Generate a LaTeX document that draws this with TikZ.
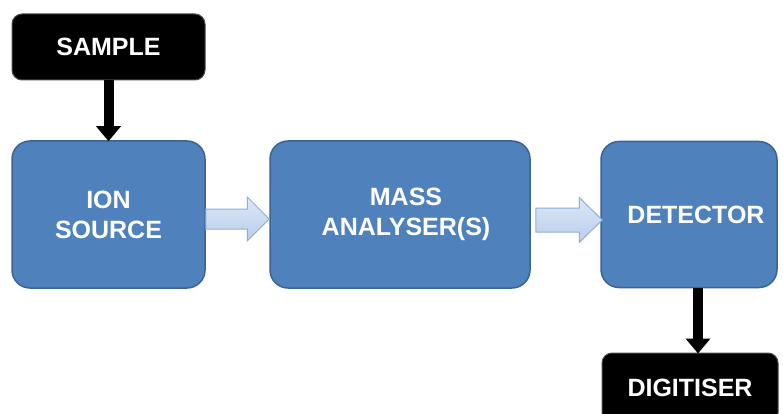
\documentclass[tikz,border=0pt]{standalone}
\usepackage{fontspec}
\setmainfont{Liberation Sans}
\usetikzlibrary{calc,arrows.meta}
\definecolor{boxblue}{HTML}{4F81BD}
\definecolor{boxedge}{HTML}{3B6494}
\definecolor{arrtop}{HTML}{DDE8F6}
\definecolor{arrbot}{HTML}{B8CDEB}
\definecolor{arredge}{HTML}{8EAFDA}
\tikzset{
  bluebox/.style={draw=boxedge, line width=1.5pt, fill=boxblue, rounded corners=18pt,
    text=white, font=\bfseries\fontsize{25}{30}\selectfont, align=center, inner sep=0pt},
  blackbox/.style={draw=black!70, line width=1pt, fill=black, rounded corners=10pt,
    text=white, font=\bfseries\fontsize{25}{30}\selectfont, align=center, inner sep=0pt},
  downarrow/.style={draw=black, line width=10pt, -{Triangle[width=24pt,length=15pt]}, shorten >=-1pt},
  barrow/.style={draw=arredge, line width=1pt, top color=arrtop, bottom color=arrbot, line join=miter}
}
\begin{document}
\begin{tikzpicture}[x=1pt,y=-1pt]
\clip (0,0) rectangle (783,414);
\fill[white] (0,0) rectangle (783,414);
\node[blackbox, minimum width=193pt, minimum height=66pt] (sample) at (108.5,47) {SAMPLE};
\node[bluebox, minimum width=193pt, minimum height=147pt] (ion) at (108.5,214.5) {ION\\SOURCE};
\node[bluebox, minimum width=260pt, minimum height=147pt] (mass) at (400,214.5) {\hspace*{12pt}MASS\\\hspace*{12pt}ANALYSER(S)};
\node[bluebox, minimum width=176pt, minimum height=146pt] (det) at (689,214.5) {\hspace*{14pt}DETECTOR};
\node[blackbox, minimum width=176pt, minimum height=70pt] (dig) at (690,388) {DIGITISER};
% vertical arrows
\draw[downarrow] (sample.south) -- (ion.north);
\draw[downarrow] ($(det.south)+(9,0)$) -- ($(dig.north)+(8,0)$);
% block arrows
\coordinate (s1) at ($(ion.east)+(0,4.5)$);
\coordinate (t1) at ($(mass.west)+(0,4.5)$);
\draw[barrow] ($(s1)+(0,-10)$) -- ($(t1)+(-22,-10)$) -- ($(t1)+(-22,-22)$) -- (t1)
  -- ($(t1)+(-22,22)$) -- ($(t1)+(-22,10)$) -- ($(s1)+(0,10)$) -- cycle;
\coordinate (s2) at ($(mass.east)+(5,5.5)$);
\coordinate (t2) at ($(det.west)+(2,5.5)$);
\draw[barrow] ($(s2)+(0,-12)$) -- ($(t2)+(-23,-12)$) -- ($(t2)+(-23,-22.5)$) -- (t2)
  -- ($(t2)+(-23,22.5)$) -- ($(t2)+(-23,12)$) -- ($(s2)+(0,12)$) -- cycle;
\end{tikzpicture}
\end{document}
